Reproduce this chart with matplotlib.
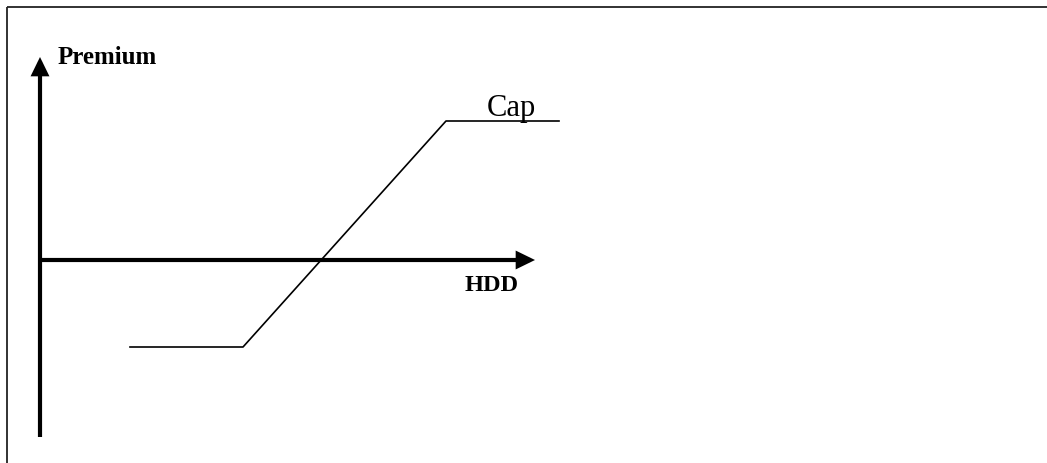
import numpy as np
import matplotlib
matplotlib.use('Agg')
import matplotlib.pyplot as plt
from matplotlib.patches import FancyArrowPatch

# payoff of the cap (HDD on x, premium on y), origin at the axes crossing
hdd = [0.90, 2.03, 4.06, 5.19]
premium = [-0.87, -0.87, 1.39, 1.39]

# axis extents
x_axis_end = 4.95
y_axis_top = 2.03
y_axis_bottom = -1.77

fig = plt.figure(figsize=(10.47, 4.64), dpi=100)
ax = fig.add_axes([0, 0, 1, 1])
ax.set_xlim(-0.40, 10.07)
ax.set_ylim(-2.03, 2.61)
ax.axis('off')

# frame (only left and top edges show in the crop)
ax.plot([-0.33, -0.33], [-2.10, 2.53], color='#222222', lw=1.3, solid_capstyle='butt')
ax.plot([-0.33, 10.2], [2.53, 2.53], color='#222222', lw=1.3, solid_capstyle='butt')

# axes arrows
style = "-|>,head_length=0.45,head_width=0.22"
for start, end in [((0, y_axis_bottom), (0, y_axis_top)), ((0, 0), (x_axis_end, 0))]:
    ax.add_patch(FancyArrowPatch(start, end, arrowstyle=style, mutation_scale=20,
                                 lw=3, color='black', shrinkA=0, shrinkB=0,
                                 joinstyle='miter', capstyle='butt'))

# payoff line
ax.plot(hdd, premium, color='black', lw=1.2)

ax.text(0.18, 1.97, 'Premium', family='Liberation Serif', fontweight='bold',
        fontsize=18, ha='left', va='baseline')
ax.text(4.25, -0.30, 'HDD', family='Liberation Serif', fontweight='bold',
        fontsize=17.5, ha='left', va='baseline')
ax.text(4.47, 1.45, 'Cap', family='Liberation Serif', fontsize=22,
        ha='left', va='baseline')

plt.savefig('out.png', dpi=100)
